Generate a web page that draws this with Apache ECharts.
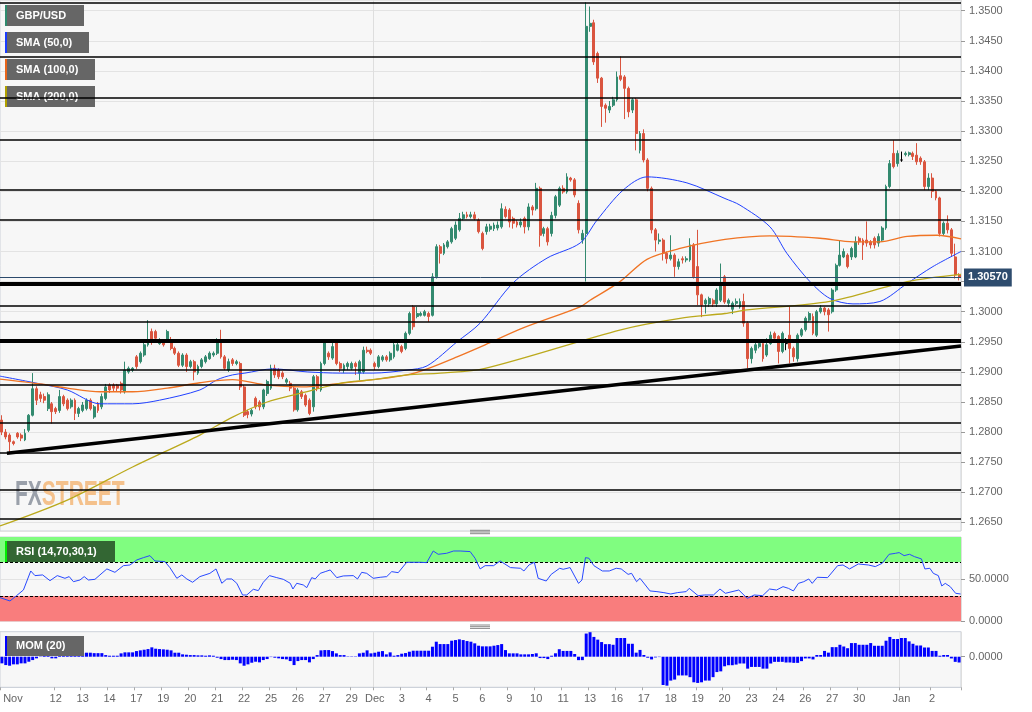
<!DOCTYPE html>
<html><head><meta charset="utf-8">
<script src="https://cdn.jsdelivr.net/npm/echarts@6/dist/echarts.min.js"></script>
<style>html,body{margin:0;padding:0;background:#fff}#c{width:1032px;height:712px}</style>
</head><body><div id="c"></div>
<script>
// ---- data: [open, close, low, high] per 4h candle ----
const candles = [
[1.2820,1.2800,1.2795,1.2828],[1.2800,1.2792,1.2788,1.2805],[1.2795,1.2784,1.2767,1.2798],[1.2784,1.2781,1.2778,1.2786],[1.2798,1.2792,1.2789,1.2800],
[1.2795,1.2790,1.2785,1.2798],[1.2787,1.2798,1.2785,1.2805],[1.2803,1.2828,1.2800,1.2830],[1.2828,1.2872,1.2826,1.2898],[1.2872,1.2853,1.2845,1.2876],
[1.2862,1.2856,1.2850,1.2867],[1.2859,1.2853,1.2848,1.2864],[1.2839,1.2862,1.2835,1.2866],[1.2847,1.2834,1.2814,1.2850],[1.2839,1.2834,1.2830,1.2842],
[1.2836,1.2859,1.2832,1.2870],[1.2859,1.2847,1.2843,1.2862],[1.2853,1.2839,1.2836,1.2856],[1.2842,1.2853,1.2839,1.2856],[1.2853,1.2831,1.2820,1.2856],
[1.2831,1.2839,1.2825,1.2842],[1.2836,1.2845,1.2833,1.2850],[1.2839,1.2853,1.2836,1.2856],[1.2853,1.2839,1.2836,1.2856],[1.2825,1.2842,1.2822,1.2845],
[1.2847,1.2836,1.2832,1.2850],[1.2842,1.2859,1.2838,1.2864],[1.2856,1.2875,1.2853,1.2880],[1.2878,1.2870,1.2865,1.2881],[1.2878,1.2873,1.2868,1.2881],
[1.2878,1.2873,1.2868,1.2880],[1.2881,1.2870,1.2864,1.2884],[1.2867,1.2903,1.2864,1.2917],[1.2900,1.2906,1.2897,1.2909],[1.2903,1.2906,1.2900,1.2908],
[1.2925,1.2909,1.2905,1.2928],[1.2917,1.2931,1.2914,1.2934],[1.2928,1.2945,1.2925,1.2948],[1.2945,1.2950,1.2942,1.2986],[1.2967,1.2950,1.2945,1.2972],
[1.2967,1.2956,1.2952,1.2970],[1.2947,1.2953,1.2945,1.2956],[1.2950,1.2945,1.2942,1.2953],[1.2953,1.2967,1.2950,1.2970],[1.2953,1.2939,1.2936,1.2958],
[1.2939,1.2931,1.2928,1.2942],[1.2931,1.2911,1.2908,1.2934],[1.2911,1.2928,1.2908,1.2931],[1.2928,1.2909,1.2900,1.2931],[1.2909,1.2917,1.2906,1.2920],
[1.2917,1.2900,1.2886,1.2920],[1.2898,1.2909,1.2895,1.2912],[1.2909,1.2920,1.2906,1.2923],[1.2917,1.2925,1.2914,1.2928],[1.2922,1.2931,1.2920,1.2934],
[1.2928,1.2931,1.2925,1.2934],[1.2931,1.2953,1.2928,1.2956],[1.2953,1.2925,1.2922,1.2970],[1.2925,1.2906,1.2903,1.2928],[1.2903,1.2917,1.2900,1.2922],
[1.2920,1.2914,1.2910,1.2923],[1.2914,1.2917,1.2911,1.2920],[1.2914,1.2875,1.2870,1.2917],[1.2875,1.2828,1.2825,1.2878],[1.2834,1.2829,1.2823,1.2837],
[1.2830,1.2836,1.2826,1.2839],[1.2856,1.2842,1.2838,1.2859],[1.2850,1.2842,1.2836,1.2853],[1.2842,1.2870,1.2838,1.2872],[1.2864,1.2884,1.2860,1.2887],
[1.2873,1.2906,1.2870,1.2912],[1.2906,1.2895,1.2890,1.2912],[1.2903,1.2892,1.2888,1.2906],[1.2898,1.2892,1.2888,1.2901],[1.2883,1.2887,1.2880,1.2890],
[1.2881,1.2873,1.2868,1.2885],[1.2873,1.2837,1.2834,1.2876],[1.2837,1.2870,1.2834,1.2873],[1.2867,1.2859,1.2855,1.2870],[1.2861,1.2845,1.2842,1.2864],
[1.2853,1.2831,1.2828,1.2856],[1.2842,1.2892,1.2834,1.2895],[1.2892,1.2873,1.2868,1.2895],[1.2870,1.2914,1.2867,1.2917],[1.2914,1.2948,1.2911,1.2953],
[1.2931,1.2925,1.2920,1.2934],[1.2923,1.2942,1.2920,1.2953],[1.2948,1.2914,1.2911,1.2953],[1.2914,1.2906,1.2900,1.2917],[1.2903,1.2911,1.2898,1.2914],
[1.2909,1.2914,1.2903,1.2917],[1.2906,1.2914,1.2903,1.2917],[1.2914,1.2909,1.2895,1.2917],[1.2898,1.2917,1.2886,1.2920],[1.2900,1.2936,1.2897,1.2942],
[1.2936,1.2934,1.2931,1.2942],[1.2936,1.2931,1.2928,1.2939],[1.2914,1.2909,1.2903,1.2917],[1.2909,1.2925,1.2906,1.2928],[1.2920,1.2925,1.2917,1.2928],
[1.2925,1.2920,1.2917,1.2928],[1.2920,1.2931,1.2917,1.2934],[1.2925,1.2945,1.2922,1.2948],[1.2936,1.2945,1.2934,1.2953],[1.2942,1.2934,1.2931,1.2945],
[1.2939,1.2964,1.2936,1.2967],[1.2964,1.2997,1.2961,1.3000],[1.3008,1.2975,1.2970,1.3011],[1.2992,1.2997,1.2989,1.3008],[1.2994,1.2997,1.2992,1.3000],
[1.2994,1.3000,1.2992,1.3003],[1.2997,1.2992,1.2983,1.3000],[1.2994,1.3058,1.2992,1.3064],[1.3058,1.3108,1.3055,1.3112],[1.3108,1.3097,1.3080,1.3111],
[1.3097,1.3111,1.3094,1.3114],[1.3108,1.3116,1.3105,1.3119],[1.3116,1.3138,1.3113,1.3141],[1.3122,1.3144,1.3119,1.3150],[1.3136,1.3155,1.3133,1.3164],
[1.3155,1.3161,1.3152,1.3166],[1.3161,1.3158,1.3155,1.3166],[1.3158,1.3161,1.3155,1.3166],[1.3161,1.3155,1.3152,1.3166],[1.3152,1.3133,1.3130,1.3155],
[1.3130,1.3105,1.3102,1.3133],[1.3133,1.3141,1.3128,1.3146],[1.3137,1.3142,1.3133,1.3146],[1.3138,1.3144,1.3134,1.3148],[1.3139,1.3144,1.3135,1.3150],
[1.3141,1.3171,1.3138,1.3180],[1.3170,1.3158,1.3155,1.3175],[1.3169,1.3149,1.3140,1.3172],[1.3155,1.3147,1.3138,1.3158],[1.3149,1.3144,1.3140,1.3152],
[1.3144,1.3149,1.3140,1.3155],[1.3155,1.3141,1.3130,1.3158],[1.3141,1.3174,1.3135,1.3180],[1.3174,1.3169,1.3160,1.3177],[1.3171,1.3205,1.3168,1.3214],
[1.3205,1.3127,1.3108,1.3208],[1.3130,1.3138,1.3125,1.3141],[1.3138,1.3116,1.3110,1.3141],[1.3130,1.3160,1.3125,1.3166],[1.3160,1.3191,1.3155,1.3194],
[1.3177,1.3205,1.3174,1.3208],[1.3205,1.3199,1.3196,1.3210],[1.3199,1.3224,1.3196,1.3230],[1.3222,1.3219,1.3216,1.3224],[1.3219,1.3194,1.3190,1.3222],
[1.3180,1.3136,1.3130,1.3185],[1.3119,1.3130,1.3113,1.3136],[1.3130,1.3474,1.3050,1.3514],[1.3474,1.3479,1.3465,1.3507],[1.3480,1.3415,1.3410,1.3485],
[1.3429,1.3388,1.3380,1.3432],[1.3388,1.3341,1.3307,1.3390],[1.3343,1.3338,1.3314,1.3346],[1.3335,1.3341,1.3330,1.3350],[1.3343,1.3352,1.3340,1.3357],
[1.3352,1.3390,1.3349,1.3399],[1.3392,1.3386,1.3383,1.3424],[1.3390,1.3371,1.3320,1.3393],[1.3371,1.3332,1.3323,1.3374],[1.3335,1.3352,1.3330,1.3355],
[1.3352,1.3296,1.3268,1.3355],[1.3268,1.3296,1.3263,1.3300],[1.3296,1.3252,1.3248,1.3303],[1.3252,1.3205,1.3200,1.3255],[1.3205,1.3136,1.3130,1.3208],
[1.3136,1.3119,1.3100,1.3139],[1.3117,1.3119,1.3112,1.3130],[1.3119,1.3097,1.3085,1.3122],[1.3097,1.3088,1.3080,1.3100],[1.3088,1.3094,1.3085,1.3127],
[1.3094,1.3075,1.3058,1.3097],[1.3075,1.3083,1.3070,1.3088],[1.3088,1.3086,1.3080,1.3092],[1.3086,1.3088,1.3082,1.3092],[1.3086,1.3111,1.3083,1.3122],
[1.3111,1.3058,1.3055,1.3114],[1.3075,1.3028,1.3011,1.3136],[1.3028,1.3011,1.2991,1.3030],[1.3013,1.3019,1.2997,1.3022],[1.3013,1.3022,1.3008,1.3025],
[1.3019,1.3013,1.3008,1.3022],[1.3013,1.3036,1.3008,1.3039],[1.3019,1.3047,1.3016,1.3080],[1.3058,1.3016,1.3013,1.3061],[1.3014,1.3019,1.3008,1.3022],
[1.3004,1.3014,1.2996,1.3017],[1.3014,1.3017,1.3011,1.3022],[1.3008,1.3017,1.3005,1.3022],[1.3017,1.2981,1.2975,1.3030],[1.2981,1.2922,1.2906,1.2984],
[1.2922,1.2939,1.2914,1.2942],[1.2936,1.2945,1.2931,1.2948],[1.2942,1.2947,1.2939,1.2950],[1.2947,1.2922,1.2917,1.2950],[1.2928,1.2945,1.2925,1.2956],
[1.2947,1.2961,1.2945,1.2967],[1.2964,1.2956,1.2950,1.2967],[1.2959,1.2934,1.2914,1.2961],[1.2934,1.2964,1.2931,1.2967],[1.2947,1.2947,1.2936,1.2956],
[1.2961,1.2939,1.2914,1.3008],[1.2939,1.2925,1.2917,1.2942],[1.2922,1.2961,1.2917,1.2964],[1.2961,1.2970,1.2958,1.2973],[1.2970,1.2989,1.2967,1.2992],
[1.2986,1.2997,1.2983,1.3000],[1.2992,1.2964,1.2961,1.2997],[1.2961,1.3000,1.2958,1.3003],[1.3000,1.3006,1.2997,1.3011],[1.3006,1.3000,1.2994,1.3008],
[1.3003,1.2995,1.2967,1.3006],[1.3000,1.3036,1.2997,1.3039],[1.3036,1.3077,1.3033,1.3080],[1.3077,1.3094,1.3075,1.3119],[1.3091,1.3100,1.3089,1.3105],
[1.3094,1.3075,1.3072,1.3097],[1.3091,1.3105,1.3086,1.3108],[1.3091,1.3116,1.3089,1.3125],[1.3122,1.3116,1.3111,1.3125],[1.3119,1.3111,1.3086,1.3122],
[1.3119,1.3114,1.3108,1.3150],[1.3116,1.3111,1.3105,1.3119],[1.3122,1.3111,1.3105,1.3125],[1.3114,1.3125,1.3108,1.3130],[1.3119,1.3139,1.3116,1.3142],
[1.3139,1.3208,1.3136,1.3211],[1.3208,1.3246,1.3205,1.3252],[1.3263,1.3241,1.3238,1.3285],[1.3246,1.3263,1.3241,1.3268],[1.3252,1.3252,1.3249,1.3266],
[1.3261,1.3263,1.3258,1.3266],[1.3261,1.3264,1.3258,1.3266],[1.3263,1.3258,1.3252,1.3266],[1.3260,1.3249,1.3244,1.3280],[1.3255,1.3249,1.3244,1.3258],
[1.3249,1.3208,1.3202,1.3252],[1.3208,1.3222,1.3202,1.3230],[1.3222,1.3200,1.3189,1.3230],[1.3200,1.3189,1.3185,1.3202],[1.3189,1.3130,1.3125,1.3191],
[1.3130,1.3147,1.3127,1.3150],[1.3147,1.3136,1.3130,1.3160],[1.3136,1.3097,1.3091,1.3139],[1.3091,1.3061,1.3055,1.3113],[1.3061,1.3057,1.3052,1.3064]
];
// moving averages: [candle index, value]
const sma50 = [[-0.5,1.2893],[10,1.2880],[17,1.2870],[25.5,1.2847],[34,1.2847],[41,1.2853],[51.5,1.2870],[56,1.2887],[60,1.2895],[63.2,1.2898],[70.5,1.2905],[79.4,1.2900],[88,1.2898],[96.5,1.2898],[105.4,1.2903],[110.6,1.2910],[118.4,1.2950],[124.4,1.2981],[133,1.3048],[141.8,1.3089],[150.4,1.3114],[154.8,1.3152],[161.6,1.3202],[167.8,1.3224],[178.2,1.3214],[188.1,1.3188],[192,1.3177],[199.8,1.3141],[204.2,1.3097],[210.2,1.3050],[215.4,1.3022],[221.4,1.3013],[228.4,1.3017],[235.5,1.3047],[242.2,1.3075],[249.5,1.3100]];
const sma100 = [[-0.5,1.2888],[10,1.2880],[17,1.2873],[25.5,1.2867],[34,1.2867],[43,1.2873],[51.5,1.2882],[60,1.2887],[69,1.2878],[78,1.2875],[88,1.2881],[96.5,1.2887],[105.4,1.2895],[111,1.2906],[118.4,1.2925],[125.7,1.2945],[135.6,1.2973],[150.4,1.3008],[153,1.3019],[160.8,1.3050],[167.8,1.3087],[176.4,1.3105],[188.1,1.3120],[199.8,1.3126],[212.8,1.3122],[221.4,1.3116],[228.4,1.3116],[235.5,1.3125],[243.3,1.3127],[249.5,1.3121]];
const sma200 = [[-0.5,1.2644],[17,1.2687],[34,1.2742],[51.5,1.2795],[60,1.2825],[69,1.2850],[78,1.2865],[88,1.2881],[96.5,1.2887],[105.4,1.2895],[114,1.2898],[125.7,1.2906],[161,1.2970],[176.4,1.2989],[188.1,1.2997],[193.8,1.3003],[215.4,1.3017],[235.5,1.3050],[249.5,1.3062]];
const rsi = [[-0.5,28.1],[2.1,24.1],[3.8,30.4],[5.6,37.2],[7.5,59.7],[8.6,54.2],[10.6,55.0],[12.5,48.2],[14.4,54.2],[16.4,51.0],[17.5,53.0],[18.6,47.0],[20.3,49.0],[21.4,53.0],[22.5,49.0],[24.2,49.8],[25.5,55.0],[27.3,62.1],[29.4,58.1],[31.6,66.0],[33.3,66.8],[35.1,72.8],[36.8,75.5],[38.5,77.9],[39.8,71.6],[42.4,70.8],[43.7,63.7],[45.5,51.0],[46.8,55.0],[48.1,50.2],[49.6,46.3],[51.5,53.0],[54.1,56.9],[55.7,62.1],[57.2,45.1],[58.5,50.2],[59.8,50.2],[61.1,45.1],[62.6,31.2],[63.7,31.2],[65.4,38.0],[66.7,36.4],[68,46.3],[69.6,54.2],[71.5,51.8],[73.2,49.8],[75,45.1],[75.7,38.3],[76.7,45.1],[78.4,43.1],[79.3,39.9],[80.6,51.8],[81.5,50.2],[82.8,56.9],[84.1,58.9],[85.4,60.9],[87.1,51.8],[88.8,53.8],[91.4,54.2],[92.5,50.2],[93.6,58.1],[94.9,56.9],[96.6,51.0],[98.4,52.2],[100.1,53.0],[101.4,58.9],[103.1,57.7],[105.3,70.0],[107.5,70.0],[108.8,70.0],[110.5,69.6],[112.2,83.4],[113.5,79.5],[115.7,80.7],[117.5,83.4],[119.2,83.4],[121.8,82.7],[123.1,74.7],[124.4,62.1],[125.7,66.0],[127.9,66.0],[129.6,71.6],[132.3,63.7],[134.9,62.9],[135.8,59.7],[137.1,66.8],[138.5,70.0],[139.5,51.0],[141.6,47.8],[142.9,55.7],[145.1,62.9],[146,61.7],[147.8,63.7],[150,45.0],[150.9,49.0],[151.8,75.5],[152.7,74.8],[154,66.0],[156.2,59.7],[158,59.7],[159.8,62.9],[161.1,62.1],[162.9,55.7],[163.8,56.9],[165.1,47.0],[166,51.0],[168.6,36.0],[170.4,35.2],[172.2,34.0],[174,32.4],[175.7,34.0],[178,35.2],[178.8,39.1],[181.1,30.4],[182.8,31.2],[185.1,31.2],[186.8,38.3],[188.2,33.2],[191.7,37.1],[193.9,27.2],[195.7,31.2],[197.9,30.4],[199.7,38.3],[201.5,37.1],[203.2,41.1],[204.6,39.1],[205.9,36.0],[207.2,45.0],[208.6,47.0],[209.9,50.2],[210.8,45.0],[212.1,52.2],[214.8,51.8],[217.4,66.0],[218.8,66.8],[220.5,62.1],[222.8,68.0],[225.4,66.8],[227.2,64.9],[229,68.8],[230.8,79.5],[232.5,80.7],[233.4,81.5],[234.7,77.9],[236.1,79.5],[237.4,76.7],[239.2,74.0],[240.1,62.1],[241.4,62.9],[242.3,56.9],[243.6,54.2],[244.5,41.9],[245.4,45.0],[246.7,41.1],[248.1,33.2],[249.4,32.4]];
const mom = [
-0.0093,-0.0117,-0.0126,-0.0107,-0.0107,-0.0093,-0.0093,-0.0070,-0.0047,-0.0023,
0.0005,0.0010,0.0010,-0.0023,-0.0023,0.0019,0.0030,0.0030,0.0030,0.0030,
0.0035,0.0050,0.0056,0.0056,0.0050,0.0050,0.0050,0.0023,0.0014,0.0014,
0.0014,0.0047,0.0061,0.0061,0.0061,0.0079,0.0089,0.0098,0.0107,0.0131,
0.0112,0.0107,0.0103,0.0098,0.0089,0.0056,0.0056,0.0033,0.0028,0.0023,
0.0023,0.0019,0.0019,0.0014,0.0019,0.0014,-0.0014,-0.0033,-0.0047,-0.0047,
-0.0042,-0.0047,-0.0093,-0.0126,-0.0107,-0.0084,-0.0070,-0.0079,-0.0047,-0.0033,
-0.0005,-0.0014,-0.0023,-0.0033,-0.0037,-0.0061,-0.0117,-0.0061,-0.0047,-0.0047,
-0.0079,-0.0033,0.0023,0.0089,0.0093,0.0093,0.0079,0.0047,0.0023,0.0023,
0.0005,0.0005,0.0005,0.0047,0.0056,0.0089,0.0047,0.0056,0.0070,0.0079,
0.0033,0.0061,0.0014,0.0023,0.0042,0.0051,0.0070,0.0084,0.0084,0.0084,
0.0084,0.0084,0.0140,0.0210,0.0177,0.0177,0.0177,0.0224,0.0233,0.0243,
0.0233,0.0219,0.0210,0.0187,0.0154,0.0145,0.0145,0.0145,0.0154,0.0163,
0.0177,0.0093,0.0047,0.0047,0.0047,0.0033,0.0033,0.0033,0.0038,0.0048,
-0.0019,-0.0019,-0.0033,0.0014,0.0048,0.0105,0.0081,0.0081,0.0081,0.0038,
-0.0048,-0.0048,0.0324,0.0343,0.0277,0.0239,0.0205,0.0176,0.0176,0.0167,
0.0262,0.0262,0.0262,0.0181,0.0181,0.0057,0.0095,0.0024,-0.0014,-0.0038,
-0.0010,-0.0005,-0.0396,-0.0405,-0.0334,-0.0320,-0.0262,-0.0262,-0.0262,-0.0286,
-0.0358,-0.0367,-0.0358,-0.0334,-0.0334,-0.0286,-0.0215,-0.0205,-0.0134,-0.0119,
-0.0119,-0.0110,-0.0095,-0.0095,-0.0167,-0.0143,-0.0143,-0.0143,-0.0167,-0.0167,
-0.0095,-0.0072,-0.0072,-0.0072,-0.0081,-0.0081,-0.0086,-0.0086,-0.0062,-0.0024,
-0.0024,-0.0038,0.0024,0.0024,0.0081,0.0057,0.0134,0.0134,0.0167,0.0143,
0.0119,0.0191,0.0191,0.0167,0.0167,0.0167,0.0191,0.0153,0.0153,0.0153,
0.0224,0.0277,0.0248,0.0248,0.0262,0.0262,0.0215,0.0181,0.0157,0.0157,
0.0129,0.0129,0.0081,0.0081,0.0014,0.0024,0.0024,-0.0024,-0.0072,-0.0081
];
const tickIndex = [0,14,21,28,35,42,49,56,63,70,77,84,91,97,104,111,118,125,132,139,146,153,160,167,174,181,188,195,202,209,216,223,234,242];
const tickText = ['Nov','12','13','14','17','19','20','21','22','25','26','27','29','Dec','3','4','5','6','9','10','11','13','16','17','18','19','20','23','24','26','27','30','Jan','2'];
const monthIndex = [97, 234];
const levels = [1.3514,1.3424,1.3355,1.3285,1.3202,1.3152,1.3010,1.2984,1.2903,1.2879,1.2815,1.2766,1.2705,1.2656];
const strongLevels = [1.3047, 1.2951];
const trend = [[1.3, 1.2765], [249.5, 1.2943]];
const legendNames = ['GBP/USD', 'SMA (50,0)', 'SMA (100,0)', 'SMA (200,0)'];

// ---- chart ----
const N = candles.length;
const categories = candles.map((_, i) => 'c' + i);
const labelAt = {};
tickIndex.forEach((k, j) => { labelAt[k] = tickText[j]; });
const last = candles[N - 1][1];
const FONT = '"Liberation Sans", Arial, sans-serif';
const UP = '#338a6f', DOWN = '#da553f';

const chart = echarts.init(document.getElementById('c'), null, { renderer: 'canvas', width: 1032, height: 712 });

const gridBase = { left: 0, width: 961, show: true, backgroundColor: '#f7f7f7', borderColor: '#cdd2da', borderWidth: 1, containLabel: false, outerBoundsMode: 'none' };
const monthSplit = { show: true, interval: (i) => monthIndex.includes(i), lineStyle: { color: '#dedede', width: 1 } };

const markLevels = levels.map(v => ({ yAxis: v, lineStyle: { color: '#000', width: 1.6, type: 'solid' } }))
  .concat(strongLevels.map(v => ({ yAxis: v, lineStyle: { color: '#000', width: 4, type: 'solid' } })))
  .concat([{ yAxis: last, lineStyle: { color: '#2c4a6c', width: 1, type: 'solid' },
    label: { show: true, position: 'end', distance: 3, formatter: last.toFixed(5), color: '#fff', backgroundColor: '#2e4c6e',
      padding: [4, 4, 3, 4], fontWeight: 'bold', fontSize: 11, fontFamily: FONT } }]);

const legendStrip = ['#2e8b6e', '#1a3cff', '#e8651a', '#b0a000'];
const legendW = [79, 84, 90, 90];
const graphics = [];
legendNames.forEach((t, k) => {
  const y = 5 + k * 27;
  graphics.push({ type: 'rect', z: 1, silent: true, shape: { x: 5, y: y, width: legendW[k], height: 21 }, style: { fill: '#666' } });
  graphics.push({ type: 'rect', z: 1, silent: true, shape: { x: 5, y: y, width: 2, height: 21 }, style: { fill: legendStrip[k] } });
  graphics.push({ type: 'text', z: 1, silent: true, x: 16, y: y + 10.5, style: { text: t, fill: '#fff', font: 'bold 11px ' + FONT, verticalAlign: 'middle' } });
});
// RSI legend
graphics.push({ type: 'rect', z: 20, silent: true, shape: { x: 5, y: 541, width: 110, height: 21 }, style: { fill: '#336633' } });
graphics.push({ type: 'rect', z: 20, silent: true, shape: { x: 5, y: 541, width: 2, height: 21 }, style: { fill: '#00ee00' } });
graphics.push({ type: 'text', z: 20, silent: true, x: 16, y: 551.5, style: { text: 'RSI (14,70,30,1)', fill: '#fff', font: 'bold 11px ' + FONT, verticalAlign: 'middle' } });
// MOM legend
graphics.push({ type: 'rect', z: 20, silent: true, shape: { x: 5, y: 636, width: 79, height: 20 }, style: { fill: '#666' } });
graphics.push({ type: 'rect', z: 20, silent: true, shape: { x: 5, y: 636, width: 2, height: 20 }, style: { fill: '#0000ff' } });
graphics.push({ type: 'text', z: 20, silent: true, x: 16, y: 646, style: { text: 'MOM (20)', fill: '#fff', font: 'bold 11px ' + FONT, verticalAlign: 'middle' } });
// panel separators
[530.3, 532, 533.7, 625, 626.7, 628.4].forEach(y => {
  graphics.push({ type: 'line', z: 20, silent: true, shape: { x1: 470, y1: y, x2: 490, y2: y }, style: { stroke: '#888', lineWidth: 1 } });
});
// watermark
graphics.push({ type: 'text', z: 1, silent: true, x: 15, y: 495, scaleX: 0.6,
  style: { text: '{a|FX}{b|STREET}', font: 'bold 35px ' + FONT, verticalAlign: 'middle',
    rich: { a: { fill: '#9aa0aa', font: 'bold 35px ' + FONT }, b: { fill: '#f4c18c', font: 'bold 35px ' + FONT } } } });

const hiddenX = { type: 'value', min: -0.5, max: N - 0.5, show: false, axisLine: { show: false, onZero: false }, axisTick: { show: false }, axisLabel: { show: false }, splitLine: { show: false } };

const option = {
  animation: false,
  backgroundColor: '#fff',
  textStyle: { fontFamily: FONT },
  grid: [
    Object.assign({ top: 0, height: 531 }, gridBase),
    Object.assign({ top: 537, height: 84.3 }, gridBase),
    Object.assign({ top: 631.7, height: 55.6 }, gridBase)
  ],
  xAxis: [
    { type: 'category', gridIndex: 0, data: categories, boundaryGap: true, axisLine: { show: false, onZero: false }, axisTick: { show: false }, axisLabel: { show: false }, splitLine: monthSplit },
    Object.assign({ gridIndex: 0 }, hiddenX),
    { type: 'category', gridIndex: 1, data: categories, boundaryGap: true, axisLine: { show: false, onZero: false }, axisTick: { show: false }, axisLabel: { show: false }, splitLine: monthSplit },
    Object.assign({ gridIndex: 1 }, hiddenX),
    { type: 'category', gridIndex: 2, data: categories, boundaryGap: true,
      axisLine: { show: true, onZero: false, lineStyle: { color: '#cdd2da' } },
      axisTick: { show: true, length: 3, interval: (i) => labelAt[i] !== undefined, lineStyle: { color: '#aaa' } },
      axisLabel: { show: true, interval: (i) => labelAt[i] !== undefined, margin: 6, color: '#666', fontSize: 11, fontFamily: FONT, hideOverlap: false,
        formatter: (v, i) => (i === 0 ? '{n|' + labelAt[i] + '}' : (labelAt[i] || '')),
        rich: { n: { color: '#666', fontSize: 11, fontFamily: FONT, padding: [0, 0, 0, 22] } } },
      splitLine: monthSplit }
  ],
  yAxis: [
    { type: 'value', gridIndex: 0, position: 'right', min: 1.26357, max: 1.35178, splitNumber: 18, scale: true,
      axisLine: { show: false, onZero: false }, axisTick: { show: true, length: 4, lineStyle: { color: '#999' } }, minorTick: { show: false },
      axisLabel: { margin: 8, color: '#666', fontSize: 11, fontFamily: FONT, showMinLabel: false, showMaxLabel: false, formatter: v => v.toFixed(4) },
      splitLine: { show: true, lineStyle: { color: '#e3e3e3' } } },
    { type: 'value', gridIndex: 1, position: 'right', min: 0, max: 100, interval: 50,
      axisLine: { show: false, onZero: false }, axisTick: { show: true, length: 4, lineStyle: { color: '#999' } },
      axisLabel: { margin: 8, color: '#666', fontSize: 11, fontFamily: FONT, showMaxLabel: false, formatter: v => v.toFixed(4) },
      splitLine: { show: true, lineStyle: { color: '#e3e3e3' } } },
    { type: 'value', gridIndex: 2, position: 'right', min: -0.0428, max: 0.035, interval: 0.0428,
      axisLine: { show: false, onZero: false }, axisTick: { show: true, length: 4, lineStyle: { color: '#999' } },
      axisLabel: { margin: 8, color: '#666', fontSize: 11, fontFamily: FONT, showMinLabel: false, showMaxLabel: false,
        formatter: v => (Math.abs(v) < 1e-9 ? '0.0000' : v.toFixed(4)) },
      splitLine: { show: false } }
  ],
  series: [
    { name: 'GBP/USD', type: 'candlestick', xAxisIndex: 0, yAxisIndex: 0, data: candles, barWidth: 2.4, clip: false, z: 2,
      itemStyle: { color: UP, color0: DOWN, borderColor: UP, borderColor0: DOWN, borderColorDoji: '#000', borderWidth: 1 },
      markLine: { silent: true, precision: 6, symbol: ['none', 'none'], label: { show: false }, data: markLevels, animation: false } },
    { name: 'SMA (50,0)', type: 'line', xAxisIndex: 1, yAxisIndex: 0, data: sma50, showSymbol: false, smooth: 0.3, z: 3,
      lineStyle: { color: '#2040ff', width: 1 } },
    { name: 'SMA (100,0)', type: 'line', xAxisIndex: 1, yAxisIndex: 0, data: sma100, showSymbol: false, smooth: 0.3, z: 3,
      lineStyle: { color: '#f07424', width: 1.3 } },
    { name: 'SMA (200,0)', type: 'line', xAxisIndex: 1, yAxisIndex: 0, data: sma200, showSymbol: false, smooth: 0.3, z: 3,
      lineStyle: { color: '#bba91c', width: 1.3 } },
    { name: 'trend', type: 'line', xAxisIndex: 1, yAxisIndex: 0, data: trend, showSymbol: false, z: 4,
      lineStyle: { color: '#000', width: 3.5 } },
    { name: 'zones', type: 'line', xAxisIndex: 3, yAxisIndex: 1, data: [], z: 1,
      markArea: { silent: true, data: [
        [{ yAxis: 70, itemStyle: { color: '#80fd80', opacity: 1 } }, { yAxis: 100 }],
        [{ yAxis: 0, itemStyle: { color: '#f97d7d', opacity: 1 } }, { yAxis: 30 }]
      ] },
      markLine: { silent: true, precision: 4, symbol: ['none', 'none'], label: { show: false },
        lineStyle: { color: '#000', width: 1, type: [3, 2] }, data: [{ yAxis: 70 }, { yAxis: 30 }] } },
    { name: 'RSI', type: 'line', xAxisIndex: 3, yAxisIndex: 1, data: rsi, showSymbol: false, z: 5,
      lineStyle: { color: '#2748ff', width: 1 } },
    { name: 'MOM', type: 'bar', xAxisIndex: 4, yAxisIndex: 2, data: mom, barCategoryGap: '22%', z: 2,
      itemStyle: { color: '#0000ff' } }
  ],
  graphic: { elements: graphics }
};
chart.setOption(option);
</script>
</body></html>
